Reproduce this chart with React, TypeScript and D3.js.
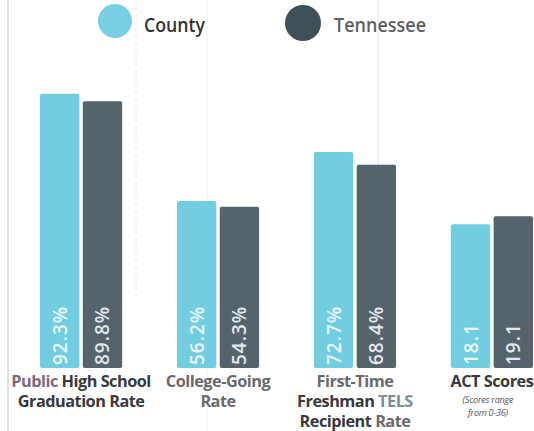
import React from "react";
import * as d3 from "d3";

// ---- data ----
const categories = ["Graduation", "CollegeGoing", "TELS", "ACT"];
const seriesNames = ["County", "Tennessee"];
const countyValues = [92.3, 56.2, 72.7, 18.1];
const tennesseeValues = [89.8, 54.3, 68.4, 19.1];
const valueUnits = ["%", "%", "%", ""];
const scaleKinds = ["percent", "percent", "percent", "act"];
// label lines: segments of [text, tone]
const labelLines: [string, string][][][] = [
  [[["Public ", "muted"], ["High School", "dark"]], [["Graduation Rate", "dark"]]],
  [[["College-Going", "gray"]], [["Rate", "gray"]]],
  [[["First-Time", "gray"]], [["Freshman ", "dark"], ["TELS", "slate"]], [["Recipient ", "dark"], ["Rate", "gray"]]],
  [[["ACT Scores", "dark"]]],
];
const noteLines = ["", "", "", "(Scores range|from 0-36)"];

const W = 534;
const H = 431;
const baseY = 368;

const toneColor: Record<string, string> = {
  muted: "#7b6a82",
  dark: "#3a3a3c",
  gray: "#6a6a6c",
  slate: "#7c8e9c",
};
const seriesColor = ["#72cde0", "#55636b"];
const legendColor = ["#78cfe1", "#405058"];
const labelColor = ["#e9f7fb", "#e3e8ea"];

export default function App() {
  const x0 = d3.scaleBand<string>().domain(categories).range([40, 533]).paddingInner(0.4).paddingOuter(0);
  const x1 = d3.scaleBand<string>().domain(seriesNames).range([0, x0.bandwidth()]).paddingInner(0.08);
  const yPct = d3.scaleLinear().domain([0, 100]).range([baseY, baseY - 297]);
  const yAct = d3.scaleLinear().domain([0, 36]).range([baseY, baseY - 286]);
  const values = [countyValues, tennesseeValues];
  const font = "'Open Sans', 'Noto Sans', sans-serif";

  return (
    <svg width={W} height={H} style={{ position: "absolute", left: 0, top: 0, background: "#fff" }}>
      {/* faint print background lines */}
      <line x1={8} x2={8} y1={0} y2={H} stroke="#cccccc" strokeWidth={1.2} />
      <line x1={136} x2={136} y1={0} y2={300} stroke="#e2e2e2" strokeWidth={1} strokeDasharray="3 4" />
      <line x1={207} x2={207} y1={0} y2={H} stroke="#eeeeee" strokeWidth={1} />
      <line x1={378} x2={378} y1={0} y2={170} stroke="#e6e6e6" strokeWidth={1} />

      {/* legend */}
      <circle cx={115} cy={21} r={17} fill={legendColor[0]} />
      <text x={144} y={32} fontFamily={font} fontWeight={600} fontSize={20} fill="#333" textLength={61} lengthAdjust="spacingAndGlyphs">
        County
      </text>
      <circle cx={303} cy={23} r={18} fill={legendColor[1]} />
      <text x={334} y={32} fontFamily={font} fontWeight={600} fontSize={20} fill="#5f5f5f" textLength={92} lengthAdjust="spacingAndGlyphs">
        Tennessee
      </text>

      {categories.map((cat, ci) => {
        const y = scaleKinds[ci] === "act" ? yAct : yPct;
        const gx = x0(cat)!;
        const cx = gx + x0.bandwidth() / 2;
        return (
          <g key={cat}>
            {seriesNames.map((s, si) => {
              const v = values[si][ci];
              const bx = gx + x1(s)!;
              const bw = x1.bandwidth();
              const top = y(v);
              return (
                <g key={s}>
                  <rect x={bx} y={top} width={bw} height={baseY - top} rx={2} fill={seriesColor[si]} />
                  <text
                    transform={`translate(${bx + bw / 2},${baseY - 3}) rotate(-90)`}
                    textAnchor="start"
                    dominantBaseline="central"
                    fontFamily={font}
                    fontWeight={600}
                    fontSize={19}
                    letterSpacing={1}
                    fill={labelColor[si]}
                  >
                    {v.toFixed(1) + valueUnits[ci]}
                  </text>
                </g>
              );
            })}
            {labelLines[ci].map((line, li) => (
              <text
                key={li}
                x={cx}
                y={387 + li * 20}
                textAnchor="middle"
                fontFamily={font}
                fontWeight={700}
                fontSize={16.3}
                letterSpacing={-0.5}
              >
                {line.map(([t, tone], k) => (
                  <tspan key={k} fill={toneColor[tone]}>
                    {t}
                  </tspan>
                ))}
              </text>
            ))}
            {noteLines[ci]
              ? noteLines[ci].split("|").map((t, li) => (
                  <text
                    key={"n" + li}
                    x={cx - 4}
                    y={403 + li * 13}
                    textAnchor="middle"
                    fontFamily={font}
                    fontStyle="italic"
                    fontSize={9}
                    letterSpacing={-0.2}
                    fill="#555"
                  >
                    {t}
                  </text>
                ))
              : null}
          </g>
        );
      })}
    </svg>
  );
}
